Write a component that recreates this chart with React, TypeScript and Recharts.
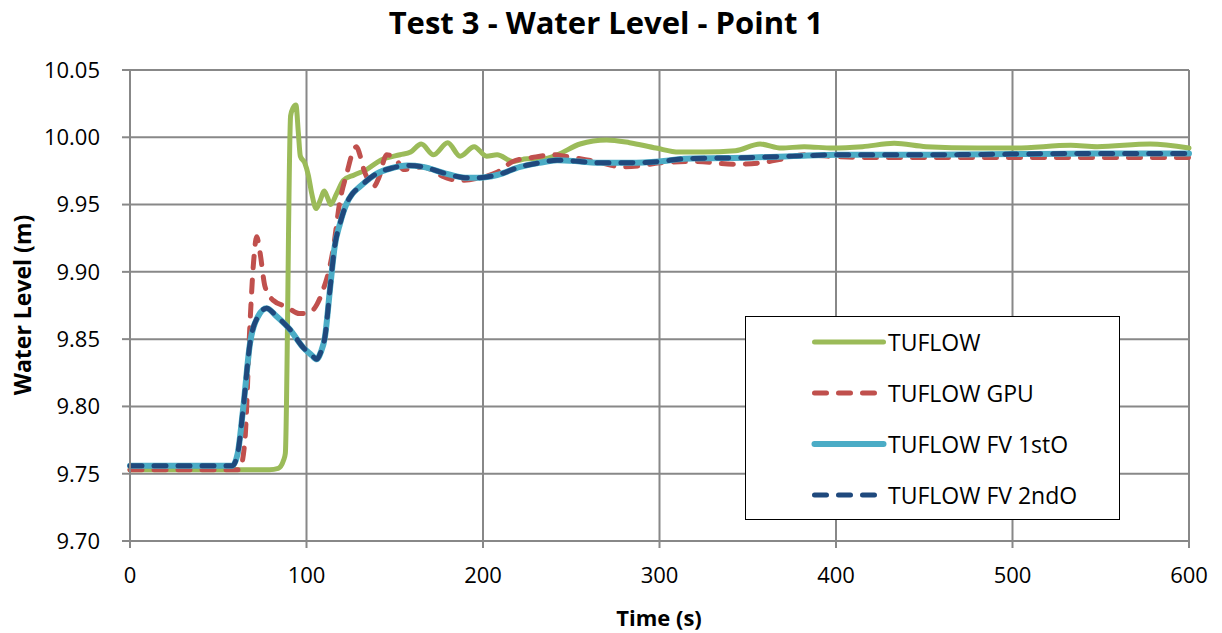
import React from 'react';
import { LineChart, Line, XAxis, YAxis, CartesianGrid } from 'recharts';

// ---- Data ----
const xTicks = [0, 100, 200, 300, 400, 500, 600];
const yTicks = [9.7, 9.75, 9.8, 9.85, 9.9, 9.95, 10.0, 10.05];

const tuflowT = [0, 40, 79, 84, 87, 88, 91, 92.5, 94, 95.4, 96.5, 99, 101, 103, 105.5, 108, 110, 112, 113.7, 117, 121, 127, 134, 142, 153, 159, 165, 172, 180, 187, 195, 202, 208, 217, 225, 234, 242, 255, 270, 283, 298, 311, 325, 343, 357, 369, 382, 398, 415, 433, 451, 480, 502, 533, 548, 578, 600];
const tuflowV = [9.753, 9.753, 9.753, 9.754, 9.76, 9.765, 10.016, 10.022, 10.024, 10.003, 9.986, 9.981, 9.972, 9.958, 9.947, 9.954, 9.96, 9.955, 9.95, 9.958, 9.968, 9.972, 9.976, 9.983, 9.987, 9.989, 9.995, 9.987, 9.996, 9.986, 9.993, 9.986, 9.987, 9.982, 9.984, 9.984, 9.987, 9.995, 9.998, 9.996, 9.992, 9.989, 9.989, 9.99, 9.995, 9.992, 9.993, 9.992, 9.993, 9.9955, 9.993, 9.992, 9.992, 9.994, 9.993, 9.995, 9.992];

const gpuT = [0, 30, 62, 65, 68, 70, 71.8, 73.7, 76.5, 81, 88.8, 96, 102, 106, 109.5, 112.5, 115, 119, 122.8, 126.5, 128.4, 130, 132, 135, 137.8, 141, 145.4, 151, 155, 160, 166, 172, 177, 187, 198, 208, 217, 228, 240, 246, 255, 264, 279, 290, 300, 320, 343, 357, 370, 382, 395, 414, 450, 500, 550, 600];
const gpuV = [9.753, 9.753, 9.753, 9.773, 9.862, 9.907, 9.926, 9.914, 9.889, 9.879, 9.874, 9.869, 9.87, 9.876, 9.887, 9.9, 9.916, 9.953, 9.973, 9.99, 9.993, 9.988, 9.978, 9.968, 9.963, 9.97, 9.987, 9.983, 9.976, 9.977, 9.978, 9.975, 9.971, 9.968, 9.97, 9.974, 9.982, 9.985, 9.987, 9.986, 9.984, 9.982, 9.978, 9.979, 9.981, 9.982, 9.98, 9.981, 9.984, 9.987, 9.986, 9.985, 9.985, 9.985, 9.985, 9.985];

const fv1T = [0, 30, 58, 61, 64, 68, 72.6, 77.4, 83, 90.7, 98, 103, 105.8, 108, 110.5, 113.3, 116, 119, 122.8, 126, 130, 139.8, 148, 157, 166, 179, 190, 198, 208, 221, 232, 242, 255, 264, 283, 300, 314, 353, 376, 401, 450, 500, 550, 600];
const fv1V = [9.756, 9.756, 9.756, 9.765, 9.797, 9.847, 9.867, 9.873, 9.867, 9.857, 9.844, 9.838, 9.835, 9.84, 9.852, 9.887, 9.919, 9.936, 9.951, 9.958, 9.963, 9.973, 9.977, 9.979, 9.978, 9.973, 9.97, 9.97, 9.972, 9.978, 9.981, 9.983, 9.982, 9.981, 9.981, 9.982, 9.984, 9.985, 9.986, 9.987, 9.987, 9.9875, 9.988, 9.988];

const fv2T = [0, 30, 58, 61, 64, 68, 72.6, 77.4, 83, 90.7, 98, 103, 105.8, 108, 110.5, 113.3, 116, 119, 122.8, 126, 130, 139.8, 148, 157, 166, 179, 190, 198, 208, 221, 232, 242, 255, 264, 283, 300, 314, 353, 376, 401, 450, 500, 550, 600];
const fv2V = [9.756, 9.756, 9.756, 9.765, 9.797, 9.847, 9.867, 9.873, 9.867, 9.857, 9.844, 9.838, 9.835, 9.84, 9.852, 9.887, 9.919, 9.936, 9.951, 9.958, 9.963, 9.973, 9.977, 9.979, 9.978, 9.973, 9.97, 9.97, 9.972, 9.978, 9.981, 9.983, 9.982, 9.981, 9.981, 9.982, 9.984, 9.985, 9.986, 9.987, 9.987, 9.9875, 9.988, 9.988];

const seriesNames = ['TUFLOW', 'TUFLOW GPU', 'TUFLOW FV 1stO', 'TUFLOW FV 2ndO'];
const seriesColors = ['#9BBB59', '#C0504D', '#4BACC6', '#1F497D'];

const toData = (t: number[], v: number[]) => t.map((x, i) => ({ t: x, v: v[i] }));
const seriesData = [
  toData(tuflowT, tuflowV),
  toData(gpuT, gpuV),
  toData(fv1T, fv1V),
  toData(fv2T, fv2V),
];
const dashed = [false, true, false, true];
const widths = [5, 5, 6, 5];

const FONT = "'Open Sans', sans-serif";
const GRID = '#888888';

const LegendBox = () => (
  <div
    style={{
      position: 'absolute',
      left: 737,
      top: 308,
      width: 375,
      height: 204,
      border: '1.5px solid #000',
      background: '#fff',
      boxSizing: 'border-box',
      fontFamily: FONT,
    }}
  >
    {seriesNames.map((name, i) => (
      <div key={name} style={{ position: 'absolute', left: 0, top: 25 + i * 51 - 15, height: 30, width: 370 }}>
        <svg width={80} height={30} style={{ position: 'absolute', left: 62, top: 0 }}>
          <line
            x1={6.5}
            x2={75.5}
            y1={15}
            y2={15}
            stroke={seriesColors[i]}
            strokeWidth={widths[i]}
            strokeLinecap="round"
            strokeDasharray={dashed[i] ? '12 12' : undefined}
          />
        </svg>
        <div style={{ position: 'absolute', left: 142, top: 0, lineHeight: '30px', fontSize: 23, color: '#000', whiteSpace: 'nowrap' }}>
          {name}
        </div>
      </div>
    ))}
  </div>
);

export default function App() {
  return (
    <div style={{ position: 'relative', width: 1206, height: 625, fontFamily: FONT, background: '#fff' }}>
      <LineChart
        width={1206}
        height={617}
        margin={{ top: 62, right: 25, bottom: 24, left: 0 }}
      >
        <CartesianGrid stroke={GRID} strokeWidth={2} vertical horizontal />
        <XAxis
          dataKey="t"
          type="number"
          domain={[0, 600]}
          ticks={xTicks}
          height={60}
          tickSize={7}
          tickMargin={19}
          stroke={GRID}
          strokeWidth={2}
          tick={{ fill: '#000', fontSize: 22, fontFamily: FONT }}
          allowDuplicatedCategory={false}
        />
        <YAxis
          type="number"
          domain={[9.7, 10.05]}
          ticks={yTicks}
          width={122}
          tickSize={8}
          tickMargin={22}
          stroke={GRID}
          strokeWidth={2}
          tickFormatter={(v: number) => v.toFixed(2)}
          tick={{ fill: '#000', fontSize: 22, fontFamily: FONT }}
          allowDataOverflow
        />
        {seriesData.map((d, i) => (
          <Line
            key={seriesNames[i]}
            data={d}
            dataKey="v"
            name={seriesNames[i]}
            type="monotone"
            stroke={seriesColors[i]}
            strokeWidth={widths[i]}
            strokeDasharray={dashed[i] ? '12 12' : undefined}
            strokeLinecap="round"
            dot={false}
            activeDot={false}
            isAnimationActive={false}
          />
        ))}
      </LineChart>
      <div
        style={{
          position: 'absolute',
          left: 0,
          top: -4,
          width: 1196,
          textAlign: 'center',
          fontSize: 31,
          fontWeight: 700,
          lineHeight: '36px',
          color: '#000',
        }}
      >
        Test 3 - Water Level - Point 1
      </div>
      <div
        style={{
          position: 'absolute',
          left: 14 - 150,
          top: 297 - 16,
          width: 300,
          height: 32,
          lineHeight: '32px',
          textAlign: 'center',
          transform: 'rotate(-90deg)',
          fontSize: 23,
          fontWeight: 700,
          color: '#000',
        }}
      >
        Water Level (m)
      </div>
      <div
        style={{
          position: 'absolute',
          left: 651 - 150,
          top: 609 - 16,
          width: 300,
          lineHeight: '32px',
          textAlign: 'center',
          fontSize: 22,
          fontWeight: 700,
          color: '#000',
        }}
      >
        Time (s)
      </div>
      <LegendBox />
    </div>
  );
}
